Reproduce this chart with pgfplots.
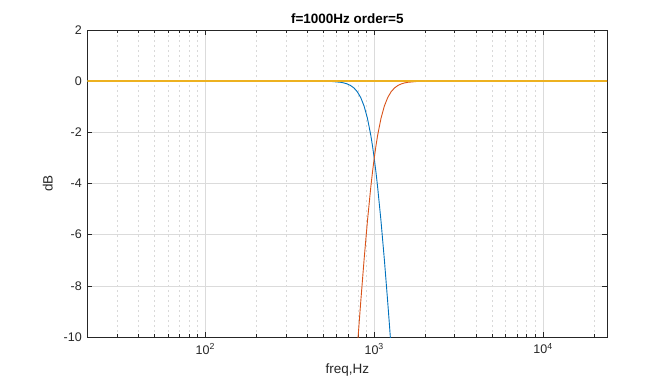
\documentclass[border=0pt]{standalone}
\usepackage{pgfplots}
\pgfplotsset{compat=1.18}
\usepackage{fontspec}
\setmainfont{Liberation Sans}
\definecolor{mblue}{rgb}{0,0.447,0.741}
\definecolor{morange}{rgb}{0.850,0.325,0.098}
\definecolor{myellow}{rgb}{0.929,0.694,0.125}
\definecolor{axgray}{gray}{0.15}
\begin{document}
\begin{tikzpicture}
\path[use as bounding box] (-87.3pt,-47pt) rectangle (584.7pt,337pt);
\begin{axis}[
  at={(0,0)}, anchor=south west,
  scale only axis, width=520pt, height=307pt,
  xmode=log, xmin=20, xmax=24000, ymin=-10, ymax=2,
  xtick={100,1000,10000},
  xticklabels={10\textsuperscript{2},10\textsuperscript{3},10\textsuperscript{4}},
  minor xtick={20,30,40,50,60,70,80,90,200,300,400,500,600,700,800,900,2000,3000,4000,5000,6000,7000,8000,9000,20000},
  ytick={-10,-8,-6,-4,-2,0,2},
  yticklabels={-10,-8,-6,-4,-2,0,2},
  tick align=inside, major tick length=5pt, minor tick length=3pt,
  xmajorgrids, xminorgrids, ymajorgrids,
  major grid style={gray!28, line width=0.5pt},
  minor grid style={gray!30, line width=0.6pt, dash pattern=on 2.5pt off 2.5pt},
  axis line style={axgray, line width=0.6pt},
  every tick/.style={axgray, line width=0.6pt},
  tick label style={font=\fontsize{12.5}{14}\selectfont, text=axgray},
  xticklabel style={yshift=-3pt},
  yticklabel style={xshift=-2pt},
  title={\bfseries f=1000Hz order=5},
  title style={font=\fontsize{13.5}{15}\selectfont, yshift=-3pt},
  xlabel={freq,Hz}, ylabel={dB},
  label style={font=\fontsize{13.5}{15}\selectfont, text=axgray},
  xlabel style={yshift=-3pt},
  ylabel style={yshift=4pt},
  clip=true,
]
\addplot[mblue, line width=0.9pt] coordinates {
(20,0) (398.1,-0.0004) (501.2,-0.0043) (562.3,-0.0137) (631.0,-0.0432)
(660.7,-0.0683) (691.8,-0.1077) (724.4,-0.1695) (758.6,-0.2657) (794.3,-0.4139)
(831.8,-0.639) (871.0,-0.973) (912.0,-1.455) (955.0,-2.125) (977.2,-2.539)
(1000,-3.010) (1023.3,-3.539) (1047.1,-4.125) (1096.5,-5.455) (1148.2,-6.973)
(1202.3,-8.639) (1230.3,-9.515) (1258.9,-10.414) (1318.3,-12.266)
};
\addplot[morange, line width=0.9pt] coordinates {
(758.6,-12.266) (794.3,-10.414) (812.8,-9.515) (831.8,-8.639) (871.0,-6.973)
(912.0,-5.455) (955.0,-4.125) (977.2,-3.539) (1000,-3.010) (1023.3,-2.539)
(1047.1,-2.125) (1096.5,-1.455) (1148.2,-0.973) (1202.3,-0.639) (1258.9,-0.4139)
(1318.3,-0.2657) (1380.4,-0.1695) (1445.4,-0.1077) (1513.6,-0.0683) (1584.9,-0.0432)
(1778.3,-0.0137) (1995.3,-0.0043) (2511.9,-0.0004) (24000,0)
};
\addplot[draw=myellow, line width=1.5pt] coordinates {(20,0) (100,0) (1000,0) (10000,0) (24000,0)};
\end{axis}
\end{tikzpicture}
\end{document}
